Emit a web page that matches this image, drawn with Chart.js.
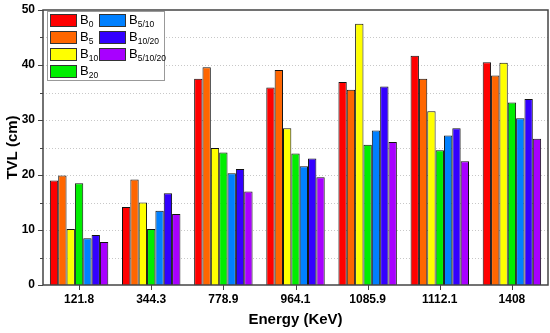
<!DOCTYPE html>
<html>
<head>
<meta charset="utf-8">
<script src="https://cdn.jsdelivr.net/npm/chart.js@4"></script>
<style>
    html, body { margin: 0; padding: 0; background: #fff; }
    .chart-container { position: relative; width: 550px; height: 333px; }
    #legend {
        position: absolute; left: 47px; top: 11px; width: 116px; height: 68px;
        border: 1px solid #999; background: #fff;
        font-family: 'Liberation Sans', Arial, sans-serif; font-size: 13px; color: #000;
    }
    .item { position: absolute; height: 13px; line-height: 13px; white-space: nowrap; }
    .swatch { position: absolute; left: 0; top: 0; width: 25px; height: 11px; border: 1px solid #333; }
    .item span.txt { position: absolute; left: 30px; top: -1px; }
    .item sub { font-size: 8.5px; vertical-align: -3px; line-height: 0; }
</style>
</head>
<body>
<div class="chart-container">
    <canvas id="tvlChart" width="550" height="333"></canvas>
    <div id="legend"></div>
</div>
<script>
// TVL per energy line for each shielding mix
const categories = ['121.8', '344.3', '778.9', '964.1', '1085.9', '1112.1', '1408'];
const seriesSubs = ['0', '5', '10', '20', '5/10', '10/20', '5/10/20'];
const seriesColors = ['#ff0000', '#ff6600', '#ffff00', '#00ee00', '#0080ff', '#3300ff', '#a800ff'];

const B0       = [19.0, 14.2, 37.5, 35.9, 36.9, 41.7, 40.5];
const B5       = [19.9, 19.2, 39.6, 39.1, 35.5, 37.5, 38.1];
const B10      = [10.2, 15.0, 24.9, 28.5, 47.5, 31.6, 40.4];
const B20      = [18.5, 10.2, 24.1, 23.9, 25.5, 24.5, 33.2];
const B5_10    = [8.5, 13.5, 20.3, 21.6, 28.1, 27.2, 30.3];
const B10_20   = [9.1, 16.7, 21.1, 23.0, 36.1, 28.5, 33.8];
const B5_10_20 = [7.8, 12.9, 17.0, 19.6, 26.0, 22.5, 26.6];

const yTicks = [0, 10, 20, 30, 40, 50];

const allSeries = [B0, B5, B10, B20, B5_10, B10_20, B5_10_20];
const fontFamily = "'Liberation Sans', Arial, sans-serif";
const axisColor = '#444';

// dotted grid behind the bars, every 5 units
const gridPlugin = {
    id: 'dotGrid',
    beforeDatasetsDraw(chart) {
        const { ctx, chartArea: a, scales } = chart;
        ctx.save();
        ctx.strokeStyle = '#c8c8c8';
        ctx.lineWidth = 1;
        ctx.setLineDash([1, 2]);
        for (let v = 5; v < 50; v += 5) {
            const y = Math.round(scales.y.getPixelForValue(v)) + 0.5;
            ctx.beginPath();
            ctx.moveTo(a.left, y);
            ctx.lineTo(a.right, y);
            ctx.stroke();
        }
        ctx.restore();
    }
};

// frame round the plot plus outward major/minor ticks
const framePlugin = {
    id: 'frame',
    afterDraw(chart) {
        const { ctx, chartArea: a, scales } = chart;
        ctx.save();
        ctx.strokeStyle = axisColor;
        ctx.lineWidth = 1.5;
        ctx.strokeRect(a.left, a.top, a.right - a.left, a.bottom - a.top);
        ctx.lineWidth = 1;
        for (let v = 0; v <= 50; v += 5) {
            const y = Math.round(scales.y.getPixelForValue(v)) + 0.5;
            const len = v % 10 === 0 ? 5 : 3;
            ctx.beginPath();
            ctx.moveTo(a.left - len, y);
            ctx.lineTo(a.left, y);
            ctx.stroke();
        }
        categories.forEach((c, i) => {
            const x = Math.round(scales.x.getPixelForValue(i)) + 0.5;
            ctx.beginPath();
            ctx.moveTo(x, a.bottom);
            ctx.lineTo(x, a.bottom + 5);
            ctx.stroke();
        });
        ctx.restore();
    }
};

function createChart() {
    const ctx = document.getElementById('tvlChart').getContext('2d');

    const datasets = allSeries.map((data, i) => ({
        label: 'B' + seriesSubs[i],
        data: data,
        backgroundColor: seriesColors[i],
        borderColor: '#111',
        borderWidth: 1,
        borderSkipped: 'bottom',
        barPercentage: 1,
        categoryPercentage: 0.81
    }));

    new Chart(ctx, {
        type: 'bar',
        data: { labels: categories, datasets: datasets },
        options: {
            responsive: false,
            animation: false,
            layout: { padding: { top: 10, right: 2, left: 0, bottom: 0 } },
            plugins: {
                legend: { display: false },
                tooltip: { enabled: false }
            },
            scales: {
                x: {
                    grid: { display: false, drawTicks: false },
                    border: { display: false },
                    ticks: {
                        color: '#000',
                        padding: 7,
                        font: { family: fontFamily, size: 12, weight: 'bold' }
                    },
                    title: {
                        display: true,
                        text: 'Energy (KeV)',
                        color: '#000',
                        padding: { top: 4 },
                        font: { family: fontFamily, size: 15, weight: 'bold' }
                    },
                    afterFit(scale) { scale.height = 48; scale.paddingLeft = 0; scale.paddingRight = 0; }
                },
                y: {
                    min: 0,
                    max: 50,
                    afterBuildTicks(scale) {
                        scale.ticks = yTicks.map(v => ({ value: v }));
                    },
                    grid: { display: false, drawTicks: false },
                    border: { display: false },
                    ticks: {
                        color: '#000',
                        padding: 8,
                        font: { family: fontFamily, size: 12, weight: 'bold' }
                    },
                    title: {
                        display: true,
                        text: 'TVL (cm)',
                        color: '#000',
                        padding: { bottom: 0 },
                        font: { family: fontFamily, size: 15, weight: 'bold' }
                    },
                    afterFit(scale) { scale.width = 43; scale.paddingTop = 0; scale.paddingBottom = 0; }
                }
            }
        },
        plugins: [gridPlugin, framePlugin]
    });
}

// legend in two columns, with real subscripts
function buildLegend() {
    const box = document.getElementById('legend');
    const order = [[0, 0, 0], [1, 0, 1], [2, 0, 2], [3, 0, 3], [4, 1, 0], [5, 1, 1], [6, 1, 2]];
    order.forEach(([i, col, row]) => {
        const item = document.createElement('div');
        item.className = 'item';
        item.style.left = (2 + col * 49) + 'px';
        item.style.top = (2 + row * 17) + 'px';
        item.innerHTML = `<div class="swatch" style="background:${seriesColors[i]}"></div>` +
            `<span class="txt">B<sub>${seriesSubs[i]}</sub></span>`;
        box.appendChild(item);
    });
}

createChart();
buildLegend();
</script>
</body>
</html>
